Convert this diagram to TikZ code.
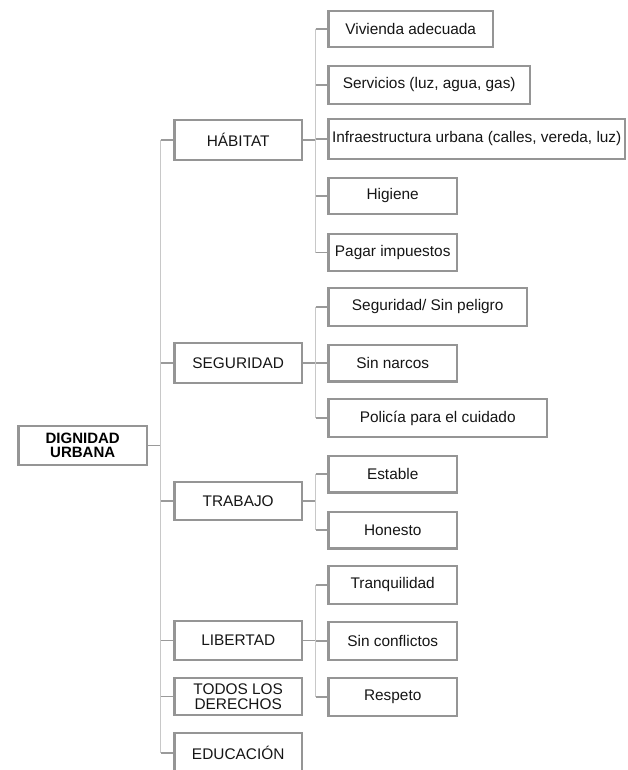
\documentclass[tikz,border=0pt]{standalone}
\usepackage{fontspec}
\setmainfont{Liberation Sans}
\usepackage{tikz}
\usetikzlibrary{calc}
\definecolor{boxGray}{HTML}{959595}
\definecolor{linkGray}{HTML}{9A9A9A}
\definecolor{trunkGray}{HTML}{C8C8C8}
\definecolor{txtGray}{HTML}{151515}

\tikzset{
  box/.style={draw=boxGray, line width=2.4pt, anchor=west, minimum height=38pt,
    inner sep=0pt, text=txtGray, align=center, font=\fontsize{15.4}{15}\selectfont},
  rootbox/.style={box, font=\fontsize{15}{14}\selectfont\bfseries, text=black},
  hlink/.style={draw=linkGray, line width=1.5pt},
  vlink/.style={draw=trunkGray, line width=1.5pt}
}

\begin{document}
\begin{tikzpicture}[x=1pt,y=-1pt]
    \useasboundingbox (0,0) rectangle (627,770);
    % root and main categories
    \node[rootbox, minimum width=128.6pt, minimum height=38.6pt] (dig) at (17.2,445.5) {DIGNIDAD\\URBANA};
    \node[box, minimum width=127.6pt, minimum height=39.6pt] (hab) at (173.2,140) {HÁBITAT};
    \node[box, minimum width=127.6pt, minimum height=39.6pt] (seg) at (173.2,363) {SEGURIDAD};
    \node[box, minimum width=127.6pt, minimum height=37.6pt] (trab) at (173.2,501) {TRABAJO};
    \node[box, minimum width=127.6pt, minimum height=38.6pt] (lib) at (173.2,640.5) {LIBERTAD};
    \node[box, minimum width=127.6pt, minimum height=36.6pt] (todos) at (173.2,696.5) {TODOS LOS\\DERECHOS};
    \node[box, minimum width=127.6pt, minimum height=39.6pt] (edu) at (173.2,753) {EDUCACIÓN};
    % habitat
    \node[box, minimum width=164.6pt, minimum height=35.6pt] (viv) at (327.2,29) {Vivienda adecuada};
    \node[box, minimum width=201.6pt, minimum height=37.6pt] (serv) at (327.2,85) {Servicios (luz, agua, gas)};
    \node[box, minimum width=296.6pt, minimum height=39.6pt] (infra) at (327.2,139) {Infraestructura urbana (calles, vereda, luz)};
    \node[box, minimum width=128.6pt, minimum height=35.6pt] (hig) at (327.2,196) {Higiene};
    \node[box, minimum width=128.6pt, minimum height=36.6pt] (pag) at (327.2,252.5) {Pagar impuestos};
    % seguridad
    \node[box, minimum width=198.6pt, minimum height=37.6pt] (sinpel) at (327.2,307) {Seguridad/ Sin peligro};
    \node[box, minimum width=128.6pt, minimum height=36.6pt] (narc) at (327.2,363) {Sin narcos};
    \node[box, minimum width=218.6pt, minimum height=37.6pt] (pol) at (327.2,418) {Policía para el cuidado};
    % trabajo
    \node[box, minimum width=128.6pt, minimum height=36.6pt] (est) at (327.2,474) {Estable};
    \node[box, minimum width=128.6pt, minimum height=36.6pt] (hon) at (327.2,530) {Honesto};
    % libertad
    \node[box, minimum width=128.6pt, minimum height=37.6pt] (tranq) at (327.2,585) {Tranquilidad};
    \node[box, minimum width=128.6pt, minimum height=37.6pt] (conf) at (327.2,641) {Sin conflictos};
    \node[box, minimum width=128.6pt, minimum height=37.6pt] (resp) at (327.2,697) {Respeto};

    % main trunk
    \draw[hlink] (dig.east) -- ++(12.5,0) coordinate (trunk);
    \draw[vlink] (trunk |- hab.west) -- (trunk |- edu.west);
    \foreach \c in {hab,seg,trab,lib,todos,edu}
        \draw[hlink] (trunk |- \c.west) -- (\c.west);

    % sub trees
    \foreach \p/\first/\last/\kids in {hab/viv/pag/{viv,serv,infra,hig,pag},
                                      seg/sinpel/pol/{sinpel,narc,pol},
                                      trab/est/hon/{est,hon},
                                      lib/tranq/resp/{tranq,conf,resp}} {
        \draw[hlink] (\p.east) -- ++(12.5,0) coordinate (fork);
        \draw[vlink] (fork |- \first.west) -- (fork |- \last.west);
        \foreach \k in \kids
            \draw[hlink] (fork |- \k.west) -- (\k.west);
    }
\end{tikzpicture}
\end{document}
